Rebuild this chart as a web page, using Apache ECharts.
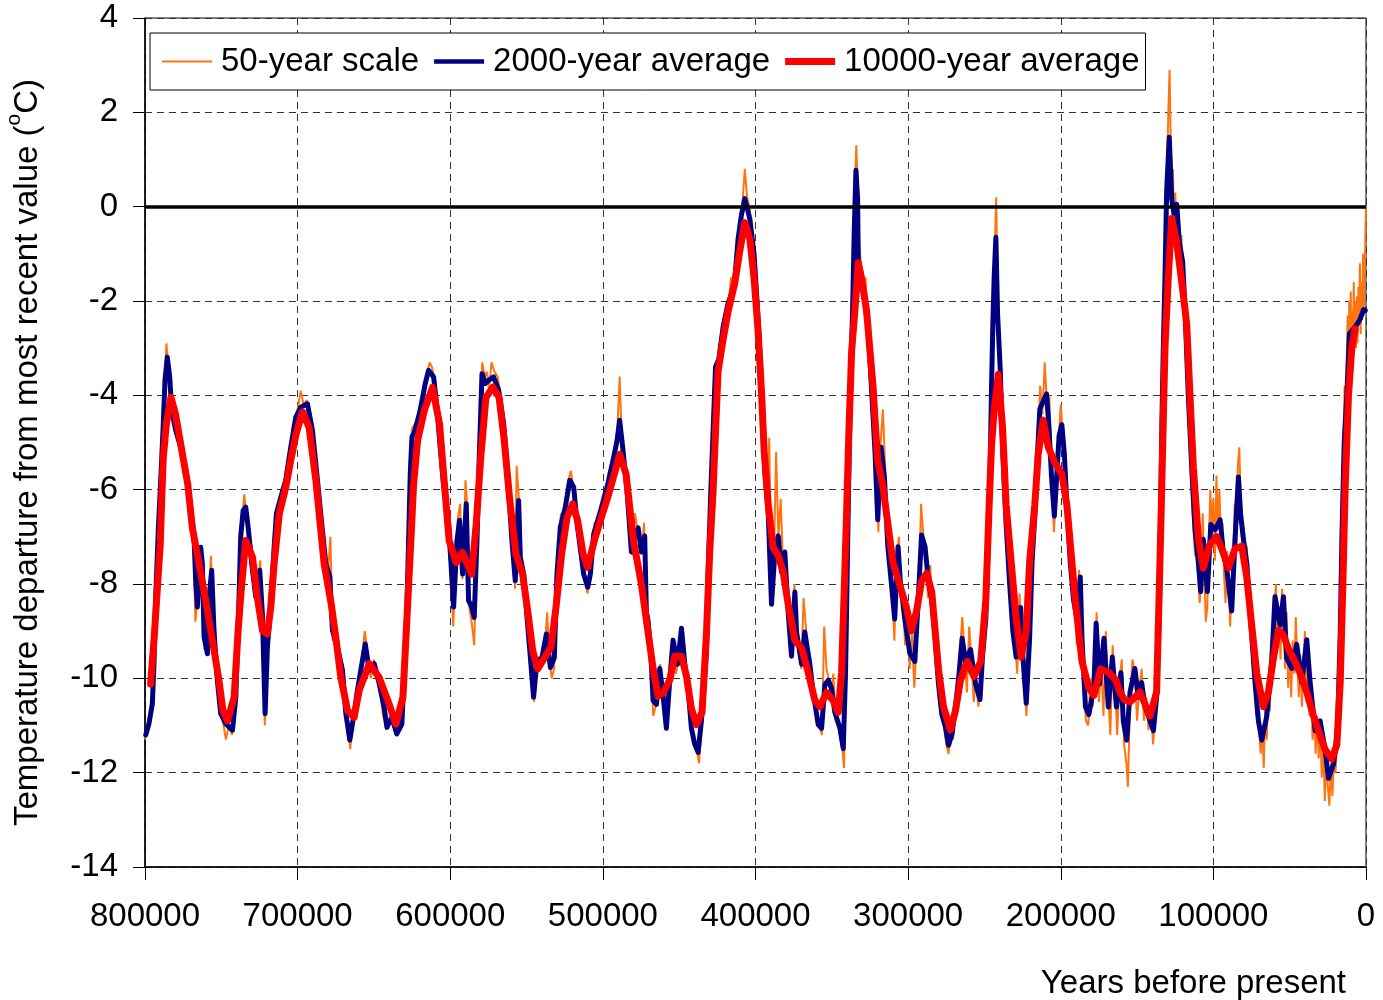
<!DOCTYPE html>
<html>
<head>
<meta charset="utf-8">
<script src="https://cdn.jsdelivr.net/npm/echarts@6/dist/echarts.min.js"></script>
<style>
  html, body { margin: 0; padding: 0; background: #fff; }
  #chart { width: 1383px; height: 1000px; }
</style>
</head>
<body>
<div id="chart"></div>
<script>
// ages in thousands of years before present, temperatures in degrees C
var orange50 = [
  [800,-11.3],[798,-11.0],[796,-10.7],[794.5,-10.0],[793,-8.5],[791.5,-7.0],[790,-6.0],[788.5,-4.9],[787,-3.8],[786,-2.9],
  [784.5,-3.4],[783,-3.9],[781,-4.5],[779,-4.6],[777,-5.1],[775,-5.2],[773,-5.7],[771,-6.2],[769.5,-6.6],[768,-7.3],
  [767,-8.8],[765.5,-8.3],[764,-7.4],[762.5,-7.6],[761,-9.4],[759.5,-9.2],[758,-8.3],[756.8,-7.4],[755,-8.9],[753,-9.8],
  [751,-10.6],[749,-10.9],[747,-11.3],[745,-11.0],[743,-11.2],[741,-10.6],[739.5,-9.3],[738,-8.0],[736.5,-6.8],[735,-6.1],
  [733.5,-6.5],[732,-7.0],[730,-7.2],[728,-8.3],[726,-8.0],[724.5,-7.5],[723,-8.8],[721.5,-11.0],[720,-9.5],[718,-8.6],
  [716,-7.4],[714,-6.4],[712,-6.3],[710,-6.0],[708,-5.7],[706,-5.4],[704,-5.0],[702,-4.5],[700,-4.3],[698,-3.9],
  [696,-4.2],[694,-4.1],[692,-4.5],[690,-4.8],[688,-5.6],[686,-6.2],[684,-6.8],[682,-7.4],[680,-7.7],[678.5,-7.0],
  [677,-9.2],[675,-9.2],[673,-9.6],[671,-9.9],[669,-10.6],[667,-11.0],[665.5,-11.5],[664,-10.9],[662,-10.5],[660,-10.0],
  [658,-9.6],[656,-9.0],[654,-9.5],[652,-10.0],[650,-9.6],[648,-10.0],[646,-10.3],[644,-10.8],[642,-11.0],[640,-10.9],
  [638,-10.8],[636,-11.2],[634,-11.1],[632,-10.8],[630.5,-9.8],[629,-8.5],[627.5,-6.9],[626.3,-5.5],[625,-4.7],[623,-4.6],
  [621,-4.4],[619,-4.2],[617,-3.8],[615,-3.5],[613.5,-3.3],[612,-3.4],[610,-3.7],[608.5,-4.3],[607,-5.0],[605,-5.6],
  [603,-6.3],[601.5,-6.6],[600,-7.6],[598,-8.9],[596.5,-7.5],[595,-6.6],[593.5,-6.3],[592,-7.9],[590,-5.8],[589,-6.3],
  [587.5,-8.5],[586,-8.8],[584.3,-9.3],[583,-7.5],[581.5,-5.5],[580,-3.9],[579,-3.3],[577.5,-3.6],[576,-3.5],[574.5,-3.9],
  [573,-3.3],[571,-3.5],[569,-3.6],[567,-4.0],[565,-4.5],[563,-5.4],[561,-6.3],[559,-7.1],[557.5,-8.1],[556.5,-5.5],
  [555,-6.2],[553.5,-7.6],[552,-7.9],[550,-8.5],[548,-9.3],[546,-10.1],[545,-10.5],[543.5,-9.7],[542,-9.8],[540,-9.5],
  [538,-9.3],[536.5,-8.6],[535,-9.6],[533.5,-10.0],[532,-9.8],[530.5,-8.4],[529,-7.1],[527.5,-6.5],[526,-6.6],[524.5,-6.2],
  [522.5,-5.8],[521,-5.6],[519.5,-5.9],[518,-6.2],[516.5,-6.6],[515,-7.1],[513,-7.7],[511.5,-8.0],[510,-8.2],[508.5,-7.7],
  [507,-7.2],[505.5,-6.7],[504,-6.8],[502,-6.4],[500,-6.1],[498,-6.0],[496,-5.6],[494,-5.5],[492,-5.2],[490.5,-4.7],
  [489,-3.6],[488,-4.6],[486.5,-5.3],[485,-5.8],[483.5,-6.1],[482,-6.9],[480.5,-7.4],[479,-6.5],[477.5,-6.8],[476,-7.1],
  [474.5,-7.3],[473,-6.7],[471.5,-8.8],[470,-9.1],[468.5,-9.7],[467,-10.8],[465.5,-10.6],[464,-10.3],[462.5,-9.7],[461,-10.2],
  [459.5,-10.8],[458,-11.1],[456.5,-10.0],[455,-9.3],[453.5,-9.5],[452,-9.9],[450.5,-9.6],[449,-8.9],[447.5,-9.0],[446,-9.8],
  [444.5,-10.3],[443,-10.8],[441.5,-11.2],[440,-11.4],[438.5,-11.5],[437,-11.8],[435.5,-11.0],[434,-10.4],[432.5,-9.6],[431,-7.8],
  [429.5,-6.0],[428,-4.6],[426.5,-3.4],[425,-3.3],[423.5,-2.9],[422,-2.6],[420.5,-2.3],[419,-2.1],[417.5,-2.0],[416,-1.5],
  [414.5,-1.8],[413,-1.3],[411.5,-0.7],[410,-0.3],[408.5,0.1],[407,0.8],[405.5,0.2],[404,0.0],[402.5,-0.5],[401,-1.0],
  [399.5,-1.6],[398,-2.5],[396.5,-3.6],[395,-4.7],[393.5,-5.8],[392,-6.6],[391,-4.9],[389.5,-8.3],[388,-7.5],[386.5,-5.2],
  [385,-7.0],[383.5,-6.2],[382,-7.6],[380.5,-7.6],[379,-8.6],[377.5,-9.3],[376,-9.4],[374.5,-8.0],[373,-9.0],[371.5,-9.4],
  [370,-9.8],[368.5,-8.3],[367,-8.9],[365.5,-9.9],[364,-9.6],[362.5,-10.2],[361,-10.6],[359.5,-11.0],[358,-11.0],[356.5,-11.2],
  [355,-8.9],[353.5,-9.8],[352,-10.0],[350.5,-10.4],[349,-9.9],[347.5,-10.9],[346,-11.0],[344.5,-11.2],[343,-11.5],[342,-11.9],
  [341,-9.8],[340,-7.5],[339,-5.5],[338,-3.7],[337,-2.5],[336,-1.2],[335,0.2],[334,1.3],[333,0.5],[332,-0.8],
  [331,-1.2],[329.5,-1.8],[328,-1.5],[326.5,-2.3],[325,-3.0],[323.5,-4.1],[322,-5.0],[320.5,-5.6],[319.5,-6.9],[318,-5.0],
  [316.5,-4.3],[315,-5.6],[313.5,-7.0],[312,-7.9],[310.5,-8.1],[309,-9.2],[307.5,-7.4],[306,-7.0],[305,-8.3],[303.5,-8.2],
  [302,-9.3],[300.5,-8.6],[299,-9.8],[297.5,-9.0],[296,-10.2],[294.5,-9.3],[293,-8.1],[291.5,-6.3],[290,-7.0],[288.5,-7.4],
  [287,-8.3],[285.5,-7.6],[284,-8.6],[282.5,-9.0],[281,-9.9],[279.5,-10.6],[278,-10.3],[276.5,-11.0],[275,-11.4],[273.5,-11.6],
  [272,-11.1],[270.5,-11.3],[269,-10.4],[267.5,-10.2],[266,-9.4],[264.5,-8.7],[263,-9.5],[261.5,-10.3],[260,-8.9],[258.5,-9.6],
  [257,-10.5],[255.5,-10.0],[254,-10.6],[252.5,-10.2],[251,-9.3],[249.5,-8.6],[248,-7.0],[247,-5.8],[246,-4.6],[245,-3.2],
  [244,-1.7],[243,-0.6],[242.3,0.2],[241.5,-1.5],[240.5,-2.6],[239.5,-3.3],[238.5,-4.2],[237,-5.5],[236,-6.0],[234.5,-7.5],
  [233,-7.5],[231.5,-8.5],[230,-9.2],[228.5,-9.9],[227,-8.2],[225.5,-9.2],[224,-9.9],[222.5,-10.8],[221,-9.6],[219.5,-8.4],
  [218,-7.0],[216.5,-6.3],[215,-5.0],[213.5,-3.8],[212,-4.4],[210.5,-3.3],[209,-4.2],[207.5,-4.0],[206,-5.5],[204.5,-6.9],
  [203,-6.1],[201.5,-5.0],[200,-4.2],[198.5,-4.9],[197,-5.5],[195.5,-6.9],[194,-7.2],[192.5,-8.3],[191,-8.0],[189.5,-9.3],
  [188,-7.7],[186.5,-9.3],[185,-10.1],[183.5,-10.9],[182,-11.0],[180.5,-10.0],[179,-10.6],[177.5,-9.5],[176.5,-8.6],[175,-10.5],
  [173.5,-9.6],[172,-10.8],[170.5,-9.0],[169,-10.3],[167.5,-11.2],[166,-9.3],[164.5,-10.1],[163,-11.2],[161.5,-10.0],[160,-9.6],
  [158.5,-11.4],[157,-11.8],[156,-12.3],[154.5,-10.4],[153,-9.6],[151.5,-9.9],[150,-10.9],[148.5,-10.2],[147,-9.8],[145.5,-10.9],
  [144,-10.4],[142.5,-11.1],[141,-10.6],[139.5,-11.4],[138,-10.8],[137,-10.2],[136,-9.0],[135,-7.8],[134.3,-6.0],[133.6,-4.3],
  [133,-3.0],[132,-1.6],[131,-0.3],[130.2,1.0],[129.5,2.0],[128.7,2.9],[128,1.5],[127.3,0.3],[126.5,0.8],[125.8,-0.4],
  [125,0.3],[124,-0.5],[123,-0.2],[122,-1.2],[121,-0.6],[120,-1.6],[119,-2.0],[118,-3.2],[117,-3.9],[116,-4.7],
  [115,-5.4],[114,-6.3],[113,-6.3],[112,-7.4],[111,-6.5],[110,-7.8],[109,-8.4],[108,-8.0],[107,-6.5],[106,-7.6],
  [105,-8.8],[104,-8.5],[103,-7.2],[102,-6.0],[101,-6.8],[100,-6.2],[99,-7.5],[98,-5.7],[97,-6.8],[96,-6.0],
  [95,-7.3],[94,-6.7],[93,-7.8],[92,-8.4],[91,-7.3],[90,-7.9],[89,-8.9],[88,-8.0],[87,-7.4],[86,-6.3],
  [85,-7.2],[84,-5.5],[83,-5.1],[82,-6.4],[81,-7.3],[80,-6.8],[79,-7.8],[78,-7.2],[77,-8.3],[76,-8.8],
  [75,-9.4],[74,-9.3],[73,-10.0],[72,-10.8],[71,-10.3],[70,-11.1],[69,-11.6],[68,-11.0],[67,-11.9],[66,-10.6],
  [65,-11.3],[64,-10.1],[63,-10.7],[62,-9.5],[61,-9.9],[60,-8.4],[59,-8.0],[58,-9.1],[57,-8.5],[56,-9.6],
  [55,-8.1],[54,-8.9],[53,-9.8],[52,-8.6],[51,-10.2],[50,-9.4],[49,-10.4],[48,-9.2],[47,-9.9],[46,-8.7],
  [45,-9.6],[44,-10.4],[43,-9.5],[42,-10.6],[41,-9.7],[40,-9.0],[39,-10.5],[38,-9.6],[37,-10.8],[36,-10.2],
  [35,-11.3],[34,-10.6],[33,-11.6],[32,-10.8],[31,-11.7],[30,-11.0],[29,-12.1],[28,-11.3],[27,-12.6],[26,-11.6],
  [25,-12.3],[24,-12.7],[23,-11.8],[22,-12.5],[21,-11.6],[20,-12.0],[19,-11.4],[18,-10.4],[17,-9.3],[16.5,-8.2],
  [16,-7.0],[15,-5.8],[14.5,-4.6],[14,-3.8],[13,-4.4],[12.5,-3.0],[12,-2.3],[11.5,-3.5],[11,-2.0],[10.5,-2.7],
  [10,-1.8],[9.5,-3.4],[9,-2.2],[8.5,-2.8],[8,-1.6],[7.5,-2.6],[7,-2.0],[6.5,-3.0],[6,-1.9],[5.5,-2.9],
  [5,-1.7],[4.5,-2.4],[4,-1.2],[3.5,-2.7],[3,-1.6],[2.5,-2.4],[2,-1.0],[1.5,-2.3],[1,-1.5],[0.5,-0.8],[0,0]
];

var blue2000 = [
  [799.5,-11.2],[797.4,-10.96],[795.2,-10.54],[794.1,-9.69],[793,-8.28],[791.3,-6.86],[789.7,-5.8],[788.2,-4.74],[786.9,-3.68],[785.4,-3.19],
  [783.8,-3.61],[782.5,-4.32],[779.9,-4.74],[776.6,-5.1],[773.3,-5.59],[770.1,-6.37],[767.9,-7.0],[766.8,-7.92],[765.7,-8.49],[763.5,-7.22],
  [762.4,-7.57],[761.3,-9.12],[759.1,-9.48],[758,-8.28],[756.3,-7.71],[754.8,-8.98],[752.6,-10.04],[750.4,-10.75],[747.1,-10.96],[742.7,-11.1],
  [740.5,-10.4],[738.4,-8.28],[737.3,-7.0],[735.7,-6.44],[734,-6.37],[732.2,-6.86],[730.1,-7.57],[727.4,-8.28],[724.8,-7.71],[723.1,-8.63],
  [721.3,-10.75],[719.8,-9.34],[717.6,-8.42],[715.4,-7.22],[713.9,-6.51],[711,-6.16],[707.8,-5.8],[704.5,-5.1],[701.2,-4.46],[697.9,-4.25],
  [693.6,-4.18],[690.3,-4.74],[687,-5.8],[684.2,-6.72],[681.5,-7.57],[678.9,-7.85],[677.2,-8.98],[673.9,-9.34],[670.6,-9.83],[668.4,-10.75],
  [665.8,-11.31],[663,-10.75],[660.8,-10.25],[657.9,-9.69],[655.7,-9.27],[653.1,-9.83],[649.8,-9.69],[646.6,-10.11],[643.3,-10.61],[641.5,-11.04],
  [638.3,-10.83],[635,-11.18],[631.7,-10.97],[630.2,-9.91],[628.4,-8.49],[627.3,-7.08],[626.2,-5.66],[625.1,-4.88],[623,-4.74],[619.7,-4.32],
  [616.4,-3.75],[614.2,-3.47],[610.9,-3.61],[608.7,-4.25],[606.6,-5.1],[604.4,-5.88],[601.1,-6.72],[597.8,-8.49],[595.6,-7.08],[593.9,-6.65],
  [591.9,-7.79],[589.5,-6.3],[588,-8.35],[585.8,-8.49],[584.3,-8.71],[582.5,-7.08],[581,-5.31],[579.2,-3.54],[577,-3.75],[574.9,-3.68],
  [571.6,-3.61],[568.3,-3.89],[565,-4.6],[562.4,-5.66],[559.6,-7.08],[557.4,-7.93],[555.2,-6.23],[554.1,-7.43],[551.9,-7.79],[549.7,-8.71],
  [547.5,-9.56],[545.4,-10.4],[543.2,-9.63],[539.9,-9.56],[537,-9.06],[534.4,-9.77],[531.8,-9.56],[530.1,-7.79],[527.9,-6.8],[524.6,-6.37],
  [521.7,-5.8],[519.1,-5.95],[516.9,-6.72],[514.3,-7.36],[512.6,-7.79],[509.9,-8.07],[508.2,-7.79],[506,-6.94],[502.7,-6.58],[499.5,-6.23],
  [496.2,-5.8],[492.9,-5.31],[490.7,-4.96],[489,-4.53],[486.8,-5.17],[484.2,-6.02],[481.3,-7.32],[479.1,-6.98],[476.9,-6.81],[474.8,-7.32],
  [472.6,-6.98],[471.5,-8.6],[470.4,-8.77],[468.6,-9.45],[467.1,-10.47],[464.9,-10.55],[462.7,-9.79],[460.5,-10.38],[458.4,-11.06],[456.2,-10.04],
  [454,-9.19],[451.1,-9.7],[448.5,-8.94],[446.3,-9.7],[444.2,-10.21],[442,-11.06],[439.8,-11.4],[437.6,-11.57],[435.4,-10.89],[432.1,-9.45],
  [431,-7.74],[429.3,-6.04],[427.8,-4.77],[426.2,-3.4],[424,-3.23],[421.2,-2.55],[417.9,-2.04],[414,-1.7],[411.4,-0.68],[409.2,-0.17],
  [407,0.17],[403.7,-0.26],[400.9,-1.02],[398.3,-2.38],[396.1,-3.74],[393.9,-5.62],[391.7,-6.47],[389.5,-8.43],[387.3,-7.32],[385.1,-6.98],
  [383,-7.74],[380.8,-7.32],[378.6,-8.6],[376.4,-9.53],[374.2,-8.17],[373.1,-9.02],[369.8,-9.7],[367.7,-9.02],[364.4,-9.7],[362.2,-10.3],
  [358.9,-10.98],[356.7,-11.06],[354.5,-10.13],[352.3,-10.04],[350.2,-10.21],[348,-10.72],[344.7,-11.06],[342.5,-11.49],[341,-9.87],[339.7,-7.32],
  [338.6,-5.19],[337.5,-3.49],[336.4,-2.21],[335.3,-0.51],[334.2,0.77],[333.1,0.17],[332.7,-1.11],[330.5,-1.45],[328.3,-2.04],[326.1,-2.64],
  [323.9,-3.91],[321.7,-5.2],[319.9,-6.64],[317.7,-5.1],[315.5,-5.75],[313.3,-7.21],[311.1,-7.94],[308.8,-8.74],[306.6,-7.21],[305.1,-7.94],
  [302.2,-8.74],[298.9,-9.47],[295.6,-9.64],[293.4,-8.34],[291.2,-6.96],[288.9,-7.21],[286.7,-7.94],[284.5,-8.34],[282.3,-9.15],[280.1,-10.12],
  [277.9,-10.77],[275.7,-11.01],[273.5,-11.42],[271.2,-11.17],[269,-10.61],[266.8,-9.96],[264.6,-9.15],[262.4,-9.64],[259.1,-9.39],[255.8,-10.12],
  [252.9,-10.45],[251.3,-9.55],[249.1,-8.74],[247.6,-7.13],[246.2,-5.51],[245.4,-3.89],[244.5,-2.51],[243.6,-1.46],[242.5,-0.65],[241.4,-2.27],
  [239.6,-3.48],[238.1,-5.1],[235.8,-6.72],[233.6,-7.94],[231.4,-8.99],[229.2,-9.55],[226.3,-8.5],[224.8,-9.55],[222.6,-10.53],[220.4,-9.15],
  [218.8,-7.53],[217,-6.56],[215.3,-5.26],[213.7,-4.29],[211.5,-4.13],[209.3,-3.97],[207.7,-4.7],[206,-5.75],[204.2,-6.56],[202.7,-5.75],
  [201.1,-4.86],[199.3,-4.62],[197.6,-5.26],[196,-6.32],[193.8,-7.53],[191.6,-8.34],[189.4,-8.74],[187.2,-7.85],[186.1,-9.15],[183.8,-10.61],
  [181.6,-10.77],[178.3,-10.2],[176.8,-8.83],[174.6,-10.12],[171.7,-9.15],[168.8,-10.61],[166.2,-9.55],[163.5,-10.61],[160.6,-9.88],[159,-10.91],
  [156.8,-11.31],[154.6,-10.29],[151.4,-9.79],[149.2,-10.4],[147,-10.09],[144.8,-10.6],[141.5,-10.9],[139.3,-11.11],[137.2,-10.4],[135.4,-8.57],
  [134.5,-6.54],[133.7,-4.51],[132.8,-2.99],[131.7,-1.47],[130.6,0.35],[128.9,1.47],[127.3,0.15],[125.8,-0.15],[124,0.05],[122.3,-0.76],
  [120.1,-1.17],[118.6,-2.18],[116.4,-4.01],[114.2,-5.53],[112,-6.85],[109.8,-7.56],[108.3,-8.16],[106.6,-7.05],[103.9,-8.16],[101.7,-6.74],
  [98.9,-6.85],[95.6,-6.64],[93.4,-7.35],[91.3,-7.66],[88,-8.57],[85.8,-7.05],[83.6,-5.73],[82.1,-6.54],[80.3,-7.05],[78.1,-7.56],
  [74.9,-9.08],[72.7,-10.09],[70.5,-10.9],[68.3,-11.31],[65,-10.8],[61.7,-9.58],[59.6,-8.27],[56.3,-8.87],[54.1,-8.27],[51.9,-9.58],
  [48.6,-9.79],[45.4,-9.28],[42.1,-10.09],[38.8,-9.18],[36.6,-10.09],[33.3,-11.11],[30.1,-10.9],[26.8,-11.51],[24.6,-12.12],[21.3,-11.82],
  [18.7,-11.11],[16.9,-9.08],[15.8,-7.05],[14.3,-5.02],[12.6,-4.01],[10.8,-2.69],[8.2,-2.59],[5.6,-2.48],[3.8,-2.38],[1.6,-2.18],[0.5,-2.2]
];

var red10000 = [
  [796.3,-10.12],[794,-9.14],[792,-8.14],[790,-7.15],[789,-6.16],[788,-5.31],[786,-4.61],[783,-4.04],[780,-4.4],[775.5,-5.24],
  [772,-5.88],[769,-6.8],[764.6,-7.58],[761,-8.21],[758,-8.78],[754.7,-9.41],[751.5,-10.05],[749,-10.68],[746,-10.9],[741.6,-10.4],
  [739,-8.99],[737,-8.14],[734,-7.08],[729.6,-7.43],[726.4,-8.28],[723,-8.99],[719.8,-9.06],[717.6,-8.49],[715.4,-7.57],[712,-6.51],
  [707.8,-5.95],[704.5,-5.38],[701,-4.82],[696.8,-4.35],[692.5,-4.68],[688,-5.81],[684.8,-6.87],[682.6,-7.58],[678,-8.42],[675,-9.13],
  [671.7,-9.98],[667.3,-10.68],[663,-10.83],[659.7,-10.26],[653,-9.69],[646.6,-9.98],[640,-10.55],[635.6,-10.97],[631,-10.4],[628,-8.49],
  [625.8,-7.08],[624,-5.88],[621.4,-4.96],[617,-4.32],[611.6,-3.83],[607,-4.61],[604,-5.81],[600.7,-7.08],[596,-7.54],[592,-7.33],
  [586,-7.79],[583,-6.73],[580,-5.31],[576.6,-4.04],[572,-3.83],[568,-4.04],[564.6,-4.96],[561,-6.23],[557,-7.36],[552.6,-7.79],
  [549,-8.63],[546,-9.41],[542.7,-9.8],[538,-9.55],[534,-9.34],[530.7,-8.49],[527,-7.36],[523.5,-6.59],[519.8,-6.3],[516.5,-6.66],
  [513,-7.36],[510,-7.65],[505.6,-7.08],[501,-6.59],[496.8,-6.16],[492.5,-5.67],[489,-5.25],[484.8,-5.67],[480,-7.08],[477,-7.6],
  [474.8,-8.0],[470.4,-9.02],[467.1,-9.79],[463.8,-10.38],[460.5,-10.3],[456.2,-10.04],[452.9,-9.53],[448.5,-9.53],[445.2,-9.96],[442,-10.64],
  [438.7,-10.98],[435,-10.72],[432.1,-9.02],[430,-7.32],[427.8,-6.04],[426.2,-4.77],[424.5,-3.49],[421.2,-2.81],[417.9,-2.21],[413.6,-1.62],
  [410.3,-0.94],[407,-0.34],[403.7,-0.68],[400.9,-1.53],[398.3,-2.64],[396.1,-3.91],[394.3,-5.19],[391.7,-6.3],[388.4,-7.23],[385.1,-7.4],
  [381.9,-7.74],[378.6,-8.43],[374.2,-9.19],[369.8,-9.36],[365.5,-9.87],[361.1,-10.47],[357.8,-10.6],[353.4,-10.3],[349.1,-10.47],[345.8,-10.72],
  [343.6,-9.87],[341.9,-8.17],[340.3,-6.47],[338.8,-4.77],[337,-3.06],[334.9,-2.21],[332.7,-1.19],[330.5,-1.53],[327.2,-2.21],[325,-3.06],
  [323,-3.8],[321.7,-4.5],[319.9,-5.4],[316.6,-5.91],[313.3,-6.72],[310,-7.53],[305.5,-8.02],[301.1,-8.5],[297.8,-8.99],[294.5,-8.58],
  [291.2,-7.94],[287.8,-7.77],[284.5,-8.18],[282.3,-8.99],[280.1,-9.8],[276.8,-10.61],[272.3,-11.09],[269,-10.69],[265.7,-10.04],[261.3,-9.64],
  [256.9,-9.96],[252.4,-9.64],[249.1,-8.34],[246.9,-6.32],[245.4,-5.1],[243.6,-4.29],[240.9,-3.56],[238.1,-4.7],[235.8,-6.32],[232.5,-7.53],
  [229.2,-8.74],[225.9,-9.55],[222.6,-8.99],[220.4,-7.53],[217,-6.32],[214.8,-5.26],[211.5,-4.53],[208.2,-5.1],[203.8,-5.43],[199.3,-5.67],
  [196,-6.32],[193.8,-7.13],[190.5,-8.34],[186.1,-9.64],[181.6,-10.2],[178.3,-10.36],[173.9,-9.8],[168.4,-9.88],[163.9,-10.04],[161.2,-10.29],
  [158.4,-10.45],[154.6,-10.5],[148.1,-10.29],[141.5,-10.8],[137.2,-10.29],[135.4,-8.06],[133.9,-6.03],[132.8,-4.51],[131.7,-2.99],[129.5,-1.47],
  [127.3,-0.25],[124,-0.76],[120.8,-1.57],[117.5,-2.48],[115.3,-4.01],[113.1,-5.53],[109.8,-7.05],[106.6,-7.66],[102.2,-7.15],[97.8,-7.0],
  [94.5,-7.25],[90.2,-7.66],[85.8,-7.25],[81.4,-7.2],[78.1,-7.86],[74.9,-8.87],[71.6,-9.89],[67.2,-10.6],[63.9,-10.29],[60.7,-9.58],
  [57.4,-8.98],[54.1,-9.08],[50.8,-9.38],[47.5,-9.58],[43.2,-9.89],[38.8,-10.29],[34.4,-10.8],[30.1,-11.21],[26.8,-11.51],[22.4,-11.71],
  [19.1,-11.41],[16.9,-10.09],[15.2,-8.06],[13.7,-6.03],[11.5,-4.01],[9.3,-2.99],[7.1,-2.59]
];

var seriesNames = ['50-year scale', '2000-year average', '10000-year average'];
var seriesColors = ['#ff7410', '#000080', '#ff0000'];
var yTicks = { min: -14, max: 4, step: 2 };
var xTicks = { min: 0, max: 800000, step: 100000 };

function toYears(list) {
  return list.map(function (p) { return [p[0] * 1000, p[1]]; });
}

var font = '"Liberation Sans", Arial, sans-serif';

var dom = document.getElementById('chart');
var myChart = echarts.init(dom, null, { renderer: 'canvas' });

var option = {
  animation: false,
  backgroundColor: '#fff',
  textStyle: { fontFamily: font, color: '#000' },
  title: {
    text: 'Years before present',
    right: 37,
    bottom: 0,
    padding: 0,
    textStyle: { fontFamily: font, fontSize: 33, fontWeight: 'normal', color: '#000' }
  },
  legend: {
    data: [
      { name: seriesNames[0], icon: 'path://M0,0H50V2H0Z' },
      { name: seriesNames[1], icon: 'path://M0,0H50V4.5H0Z' },
      { name: seriesNames[2], icon: 'path://M0,0H50V7H0Z' }
    ],
    left: 150,
    top: 33,
    padding: [12, 6, 12, 12],
    itemWidth: 50,
    itemHeight: 14,
    itemGap: 15,
    borderColor: '#000',
    borderWidth: 1,
    backgroundColor: '#fff',
    textStyle: { fontFamily: font, fontSize: 33, color: '#000', padding: [0, 0, 0, 4] }
  },
  grid: {
    left: 145,
    right: 17,
    top: 18,
    bottom: 133,
    show: true,
    borderColor: '#000',
    borderWidth: 1,
    containLabel: false,
    outerBoundsMode: 'none'
  },
  xAxis: {
    type: 'value',
    inverse: true,
    min: xTicks.min,
    max: xTicks.max,
    interval: xTicks.step,
    axisLine: { show: true, onZero: false, lineStyle: { color: '#000', width: 1.5 } },
    axisTick: { show: true, length: 13, lineStyle: { color: '#000' } },
    axisLabel: {
      margin: 33,
      fontSize: 33,
      fontFamily: font,
      color: '#000',
      formatter: function (v) { return String(v); }
    },
    splitLine: { show: true, lineStyle: { color: '#333', type: [7, 5], width: 1 } }
  },
  yAxis: {
    type: 'value',
    min: yTicks.min,
    max: yTicks.max,
    interval: yTicks.step,
    name: 'Temperature departure from most recent value ({sup|o}C)',
    nameLocation: 'middle',
    nameGap: 94,
    nameTextStyle: {
      fontFamily: font,
      fontSize: 33,
      color: '#000',
      padding: [0, 20, 0, 0],
      rich: {
        sup: { fontFamily: font, fontSize: 21, color: '#000', verticalAlign: 'top', padding: [0, 0, 26, 0] }
      }
    },
    axisLine: { show: true, onZero: false, lineStyle: { color: '#000', width: 1.5 } },
    axisTick: { show: true, length: 12, lineStyle: { color: '#000' } },
    axisLabel: { margin: 27, fontSize: 33, fontFamily: font, color: '#000' },
    splitLine: { show: true, lineStyle: { color: '#333', type: [7, 5], width: 1 } }
  },
  series: [
    {
      name: seriesNames[0],
      type: 'line',
      data: toYears(orange50),
      showSymbol: false,
      symbol: 'none',
      z: 2,
      lineStyle: { color: seriesColors[0], width: 2 },
      itemStyle: { color: seriesColors[0] }
    },
    {
      name: seriesNames[1],
      type: 'line',
      data: toYears(blue2000),
      showSymbol: false,
      symbol: 'none',
      z: 3,
      lineStyle: { color: seriesColors[1], width: 5, join: 'round', cap: 'round' },
      itemStyle: { color: seriesColors[1] }
    },
    {
      name: seriesNames[2],
      type: 'line',
      data: toYears(red10000),
      showSymbol: false,
      symbol: 'none',
      z: 4,
      lineStyle: { color: seriesColors[2], width: 7, join: 'round', cap: 'round' },
      itemStyle: { color: seriesColors[2] }
    },
    {
      name: 'zero',
      type: 'line',
      data: [],
      z: 5,
      markLine: {
        silent: true,
        symbol: 'none',
        label: { show: false },
        lineStyle: { color: '#000', width: 3.5, type: 'solid' },
        data: [{ yAxis: 0 }]
      }
    }
  ]
};

if (option && typeof option === 'object') {
  myChart.setOption(option);
}
</script>
</body>
</html>
